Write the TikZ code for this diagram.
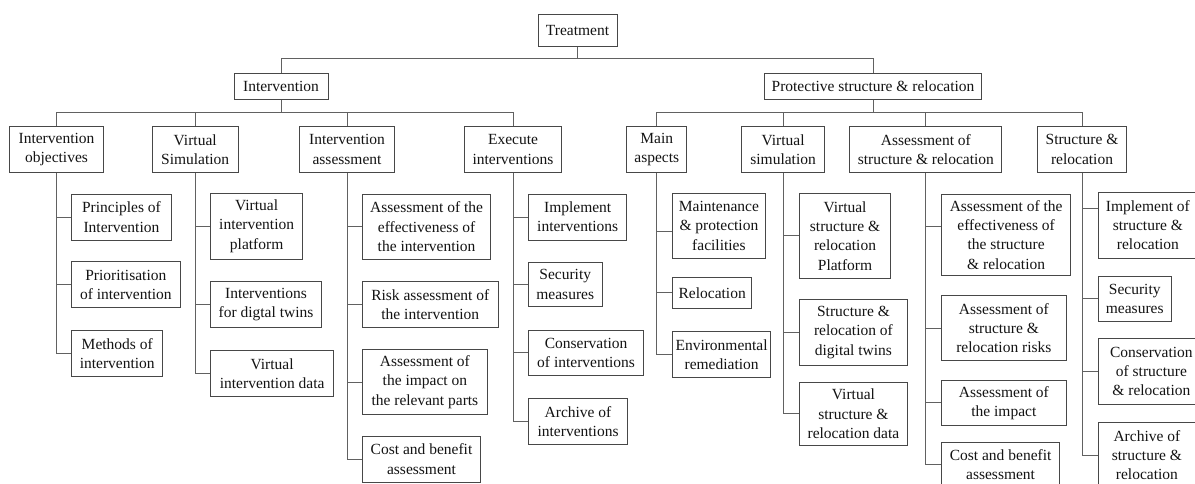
\documentclass[tikz,border=0pt]{standalone}
\usepackage{fontspec}
\setmainfont{Liberation Serif}
\usetikzlibrary{calc}
\begin{document}
\begin{tikzpicture}[x=1pt,y=-1pt,
  box/.style={draw=black!72, line width=1pt, fill=white, align=center,
    inner sep=0pt, text=black!92, font=\fontsize{15.5}{19.3}\selectfont},
  sz/.style 2 args={minimum width=#1pt, minimum height=#2pt},
  leaf/.style={box, anchor=west},
  link/.style={draw=black!62, line width=1pt}]
\path[use as bounding box] (0,0) rectangle (1195,483);
\clip (0,0) rectangle (1195,483);

% root and first level
\node[box, sz={79}{32}] (treat) at (577.5,30) {Treatment};
\node[box, sz={94}{26}] (int) at (281,86) {Intervention};
\node[box, sz={217}{26}] (prot) at (873,86) {Protective structure \& relocation};

% second level
\node[box, sz={93.7}{45.6}] (io) at (56.5,149.5) {Intervention\\objectives};
\node[box, sz={86.4}{45.6}] (vs) at (195.2,149.5) {Virtual\\Simulation};
\node[box, sz={94.5}{45.6}] (ia) at (347,149.5) {Intervention\\assessment};
\node[box, sz={97.6}{45.6}] (ei) at (513,149.5) {Execute\\interventions};
\node[box, sz={60}{45.6}] (ma) at (656.8,149.5) {Main\\aspects};
\node[box, sz={83}{45.6}] (vr) at (783.1,149.5) {Virtual\\simulation};
\node[box, sz={151.9}{45.6}] (as) at (925.9,149.5) {Assessment of\\structure \& relocation};
\node[box, sz={89.2}{45.6}] (sr) at (1082,149.5) {Structure \&\\relocation};

% leaves: intervention objectives
\node[leaf, sz={99.5}{46}] (a1) at (71.2,217) {Principles of\\Intervention};
\node[leaf, sz={108.3}{45.7}] (a2) at (71.2,284.8) {Prioritisation\\of intervention};
\node[leaf, sz={91.1}{45.7}] (a3) at (71.2,353.8) {Methods of\\intervention};
% leaves: virtual simulation
\node[leaf, sz={92.3}{65.7}] (b1) at (210,226.2) {Virtual\\intervention\\platform};
\node[leaf, sz={111}{45.6}] (b2) at (210,304.5) {Interventions\\for digtal twins};
\node[leaf, sz={123.3}{45.6}] (b3) at (210,373.5) {Virtual\\intervention data};
% leaves: intervention assessment
\node[leaf, sz={128.2}{65.3}] (c1) at (362,226.7) {Assessment of the\\effectiveness of\\the intervention};
\node[leaf, sz={135.5}{45.6}] (c2) at (362,304.5) {Risk assessment of\\the intervention};
\node[leaf, sz={124.8}{65.4}] (c3) at (362,382) {Assessment of\\the impact on\\the relevant parts};
\node[leaf, sz={118}{45.7}] (c4) at (362,459.2) {Cost and benefit\\assessment};
% leaves: execute interventions
\node[leaf, sz={98.4}{46}] (d1) at (528,217) {Implement\\interventions};
\node[leaf, sz={73.5}{44.7}] (d2) at (528,284.4) {Security\\measures};
\node[leaf, sz={115.2}{45.7}] (d3) at (528,352.9) {Conservation\\of interventions};
\node[leaf, sz={99.1}{45.3}] (d4) at (528,421.4) {Archive of\\interventions};
% leaves: main aspects
\node[leaf, sz={92.2}{65}] (e1) at (672.3,225.8) {Maintenance\\\& protection\\facilities};
\node[leaf, sz={78.8}{31}] (e2) at (672.3,292.8) {Relocation};
\node[leaf, sz={97.6}{45.6}] (e3) at (672.3,354.5) {Environmental\\remediation};
% leaves: virtual simulation of structure
\node[leaf, sz={91.8}{85}] (f1) at (798.6,235.8) {Virtual\\structure \&\\relocation\\Platform};
\node[leaf, sz={108.7}{65.6}] (f2) at (798.6,332.5) {Structure \&\\relocation of\\digital twins};
\node[leaf, sz={108.7}{63}] (f3) at (798.6,413.8) {Virtual\\structure \&\\relocation data};
% leaves: assessment of structure
\node[leaf, sz={129.3}{81.7}] (g1) at (941,234.9) {Assessment of the\\effectiveness of\\the structure\\\& relocation};
\node[leaf, sz={124.7}{65}] (g2) at (941,328.2) {Assessment of\\structure \&\\relocation risks};
\node[leaf, sz={124.7}{45.7}] (g3) at (941,402.9) {Assessment of\\the impact};
\node[leaf, sz={118.2}{45.4}] (g4) at (941,464.7) {Cost and benefit\\assessment};
% leaves: structure and relocation
\node[leaf, sz={99}{66}] (h1) at (1097.9,225.3) {Implement of\\structure \&\\relocation};
\node[leaf, sz={72.7}{45.7}] (h2) at (1097.9,298.9) {Security\\measures};
\node[leaf, sz={106}{66}] (h3) at (1097.9,371.3) {Conservation\\of structure\\\& relocation};
\node[leaf, sz={97}{65}] (h4) at (1097.9,455) {Archive of\\structure \&\\relocation};

% buses
\coordinate (bus0) at (577.5,58.7);
\coordinate (busI) at (281,112.3);
\coordinate (busP) at (873,112.3);

\draw[link] (treat.south) -- (bus0) -| (int.north);
\draw[link] (bus0) -| (prot.north);
\draw[link] (int.south) -- (busI);
\foreach \n in {io,vs,ia,ei} \draw[link] (busI) -| (\n.north);
\draw[link] (prot.south) -- (busP);
\foreach \n in {ma,vr,as,sr} \draw[link] (busP) -| (\n.north);

% spines with stubs
\foreach \p/\l in {io/a1,io/a2,io/a3,vs/b1,vs/b2,vs/b3,
  ia/c1,ia/c2,ia/c3,ia/c4,ei/d1,ei/d2,ei/d3,ei/d4,
  ma/e2,ma/e3,vr/f1,vr/f2,vr/f3,as/g2,as/g3,as/g4,
  sr/h2,sr/h3,sr/h4}
  \draw[link] (\p.south) |- (\l.west);
\draw[link] (ma.south) |- ($(e1.north west)!0.58!(e1.south west)$);
\draw[link] (as.south) |- ($(g1.north west)!0.4!(g1.south west)$);
\draw[link] (sr.south) |- ($(h1.north west)!0.25!(h1.south west)$);
\end{tikzpicture}
\end{document}
